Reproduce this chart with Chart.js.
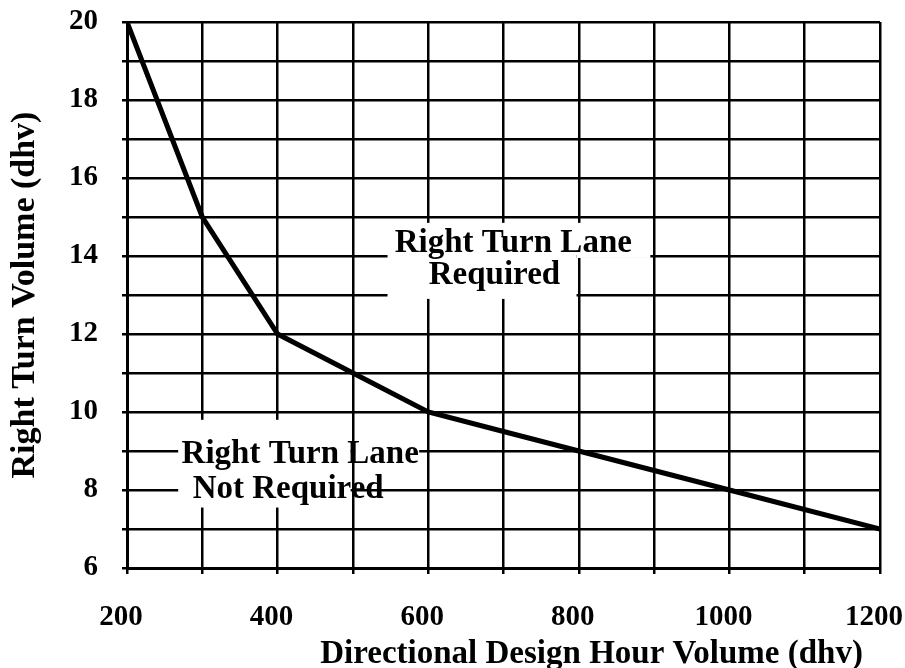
<!DOCTYPE html>
<html>
<head>
<meta charset="utf-8">
<script src="https://cdn.jsdelivr.net/npm/chart.js@4.4.1/dist/chart.umd.min.js"></script>
<style>
  html, body { margin: 0; padding: 0; background: #fff; }
  #wrap { width: 905px; height: 668px; }
</style>
</head>
<body>
<div id="wrap"><canvas id="turn-lane-chart" width="905" height="668"></canvas></div>
<script>
// curve
const directionalVolume = [200, 300, 400, 500, 600, 700, 800, 1000, 1200];
const rightTurnVolume = [20, 15, 12, 11, 10, 9.5, 9, 8, 7];

const xTickLabels = [200, 400, 600, 800, 1000, 1200];
const yTickLabels = [6, 8, 10, 12, 14, 16, 18, 20];

const xTitle = 'Directional Design Hour Volume (dhv)';
const yTitle = 'Right Turn Volume (dhv)';
const upperLabel = ['Right Turn Lane', 'Required'];
const lowerLabel = ['Right Turn Lane', 'Not Required'];

const serif = "'Liberation Serif', 'Times New Roman', serif";

const labelsPlugin = {
    id: 'regionLabels',
    beforeDatasetsDraw(chart) {
        const { ctx, scales: { x, y } } = chart;
        ctx.save();
        ctx.fillStyle = '#fff';
        // whited-out patches behind the region labels
        const patch = (x0, x1, y0, y1) => {
            const l = x.getPixelForValue(x0), r = x.getPixelForValue(x1);
            const t = y.getPixelForValue(y1), b = y.getPixelForValue(y0);
            ctx.fillRect(l, t, r - l, b - t);
        };
        patch(546, 797, 12.9, 14.85);
        patch(797, 895, 13.95, 14.85);
        patch(268, 497, 7.55, 9.8);
        patch(503, 588, 8.85, 9.2);
        ctx.restore();
    },
    afterDraw(chart) {
        const { ctx, scales: { x, y }, chartArea } = chart;
        ctx.save();
        ctx.fillStyle = '#000';
        ctx.font = `bold 33px ${serif}`;
        ctx.textAlign = 'center';
        ctx.textBaseline = 'middle';
        ctx.fillText(upperLabel[0], x.getPixelForValue(713), y.getPixelForValue(14.33));
        ctx.fillText(upperLabel[1], x.getPixelForValue(688), y.getPixelForValue(13.5));
        ctx.fillText(lowerLabel[0], x.getPixelForValue(430), y.getPixelForValue(8.9));
        ctx.fillText(lowerLabel[1], x.getPixelForValue(414), y.getPixelForValue(8.02));

        ctx.font = `bold 33px ${serif}`;
        ctx.fillText(xTitle, x.getPixelForValue(817), chartArea.bottom + 86);
        ctx.restore();
    }
};

const ctx = document.getElementById('turn-lane-chart').getContext('2d');
const turnLaneChart = new Chart(ctx, {
    type: 'line',
    data: {
        datasets: [
            {
                data: directionalVolume.map((v, i) => ({ x: v, y: rightTurnVolume[i] })),
                borderColor: '#000',
                borderWidth: 5,
                pointRadius: 0,
                tension: 0,
                fill: false
            }
        ]
    },
    options: {
        responsive: false,
        animation: false,
        layout: {
            padding: { top: 22, right: 25, left: 0, bottom: 0 }
        },
        plugins: {
            legend: { display: false },
            tooltip: { enabled: false }
        },
        scales: {
            x: {
                type: 'linear',
                min: 200,
                max: 1200,
                afterFit: scale => {
                    scale.height = 100;
                    scale.paddingLeft = 0;
                    scale.paddingRight = 0;
                },
                border: { color: '#000', width: 3 },
                grid: {
                    color: '#000',
                    lineWidth: 2.5,
                    tickLength: 6,
                    tickColor: '#000'
                },
                ticks: {
                    stepSize: 100,
                    autoSkip: false,
                    maxRotation: 0,
                    padding: 26,
                    labelOffset: -6,
                    color: '#000',
                    font: { family: serif, size: 29, weight: 'bold' },
                    callback: v => xTickLabels.includes(v) ? String(v) : ''
                }
            },
            y: {
                min: 6,
                max: 20,
                afterFit: scale => {
                    scale.width = 127;
                    scale.paddingTop = 0;
                    scale.paddingBottom = 0;
                },
                border: { color: '#000', width: 3 },
                grid: {
                    color: '#000',
                    lineWidth: 2.5,
                    tickLength: 5,
                    tickColor: '#000'
                },
                title: {
                    display: true,
                    text: yTitle,
                    color: '#000',
                    padding: { top: 5, bottom: 0 },
                    font: { family: serif, size: 34, weight: 'bold' }
                },
                ticks: {
                    stepSize: 1,
                    autoSkip: false,
                    padding: 24,
                    color: '#000',
                    font: { family: serif, size: 29, weight: 'bold' },
                    callback: v => yTickLabels.includes(v) ? String(v) : ''
                }
            }
        }
    },
    plugins: [labelsPlugin]
});
</script>
</body>
</html>
